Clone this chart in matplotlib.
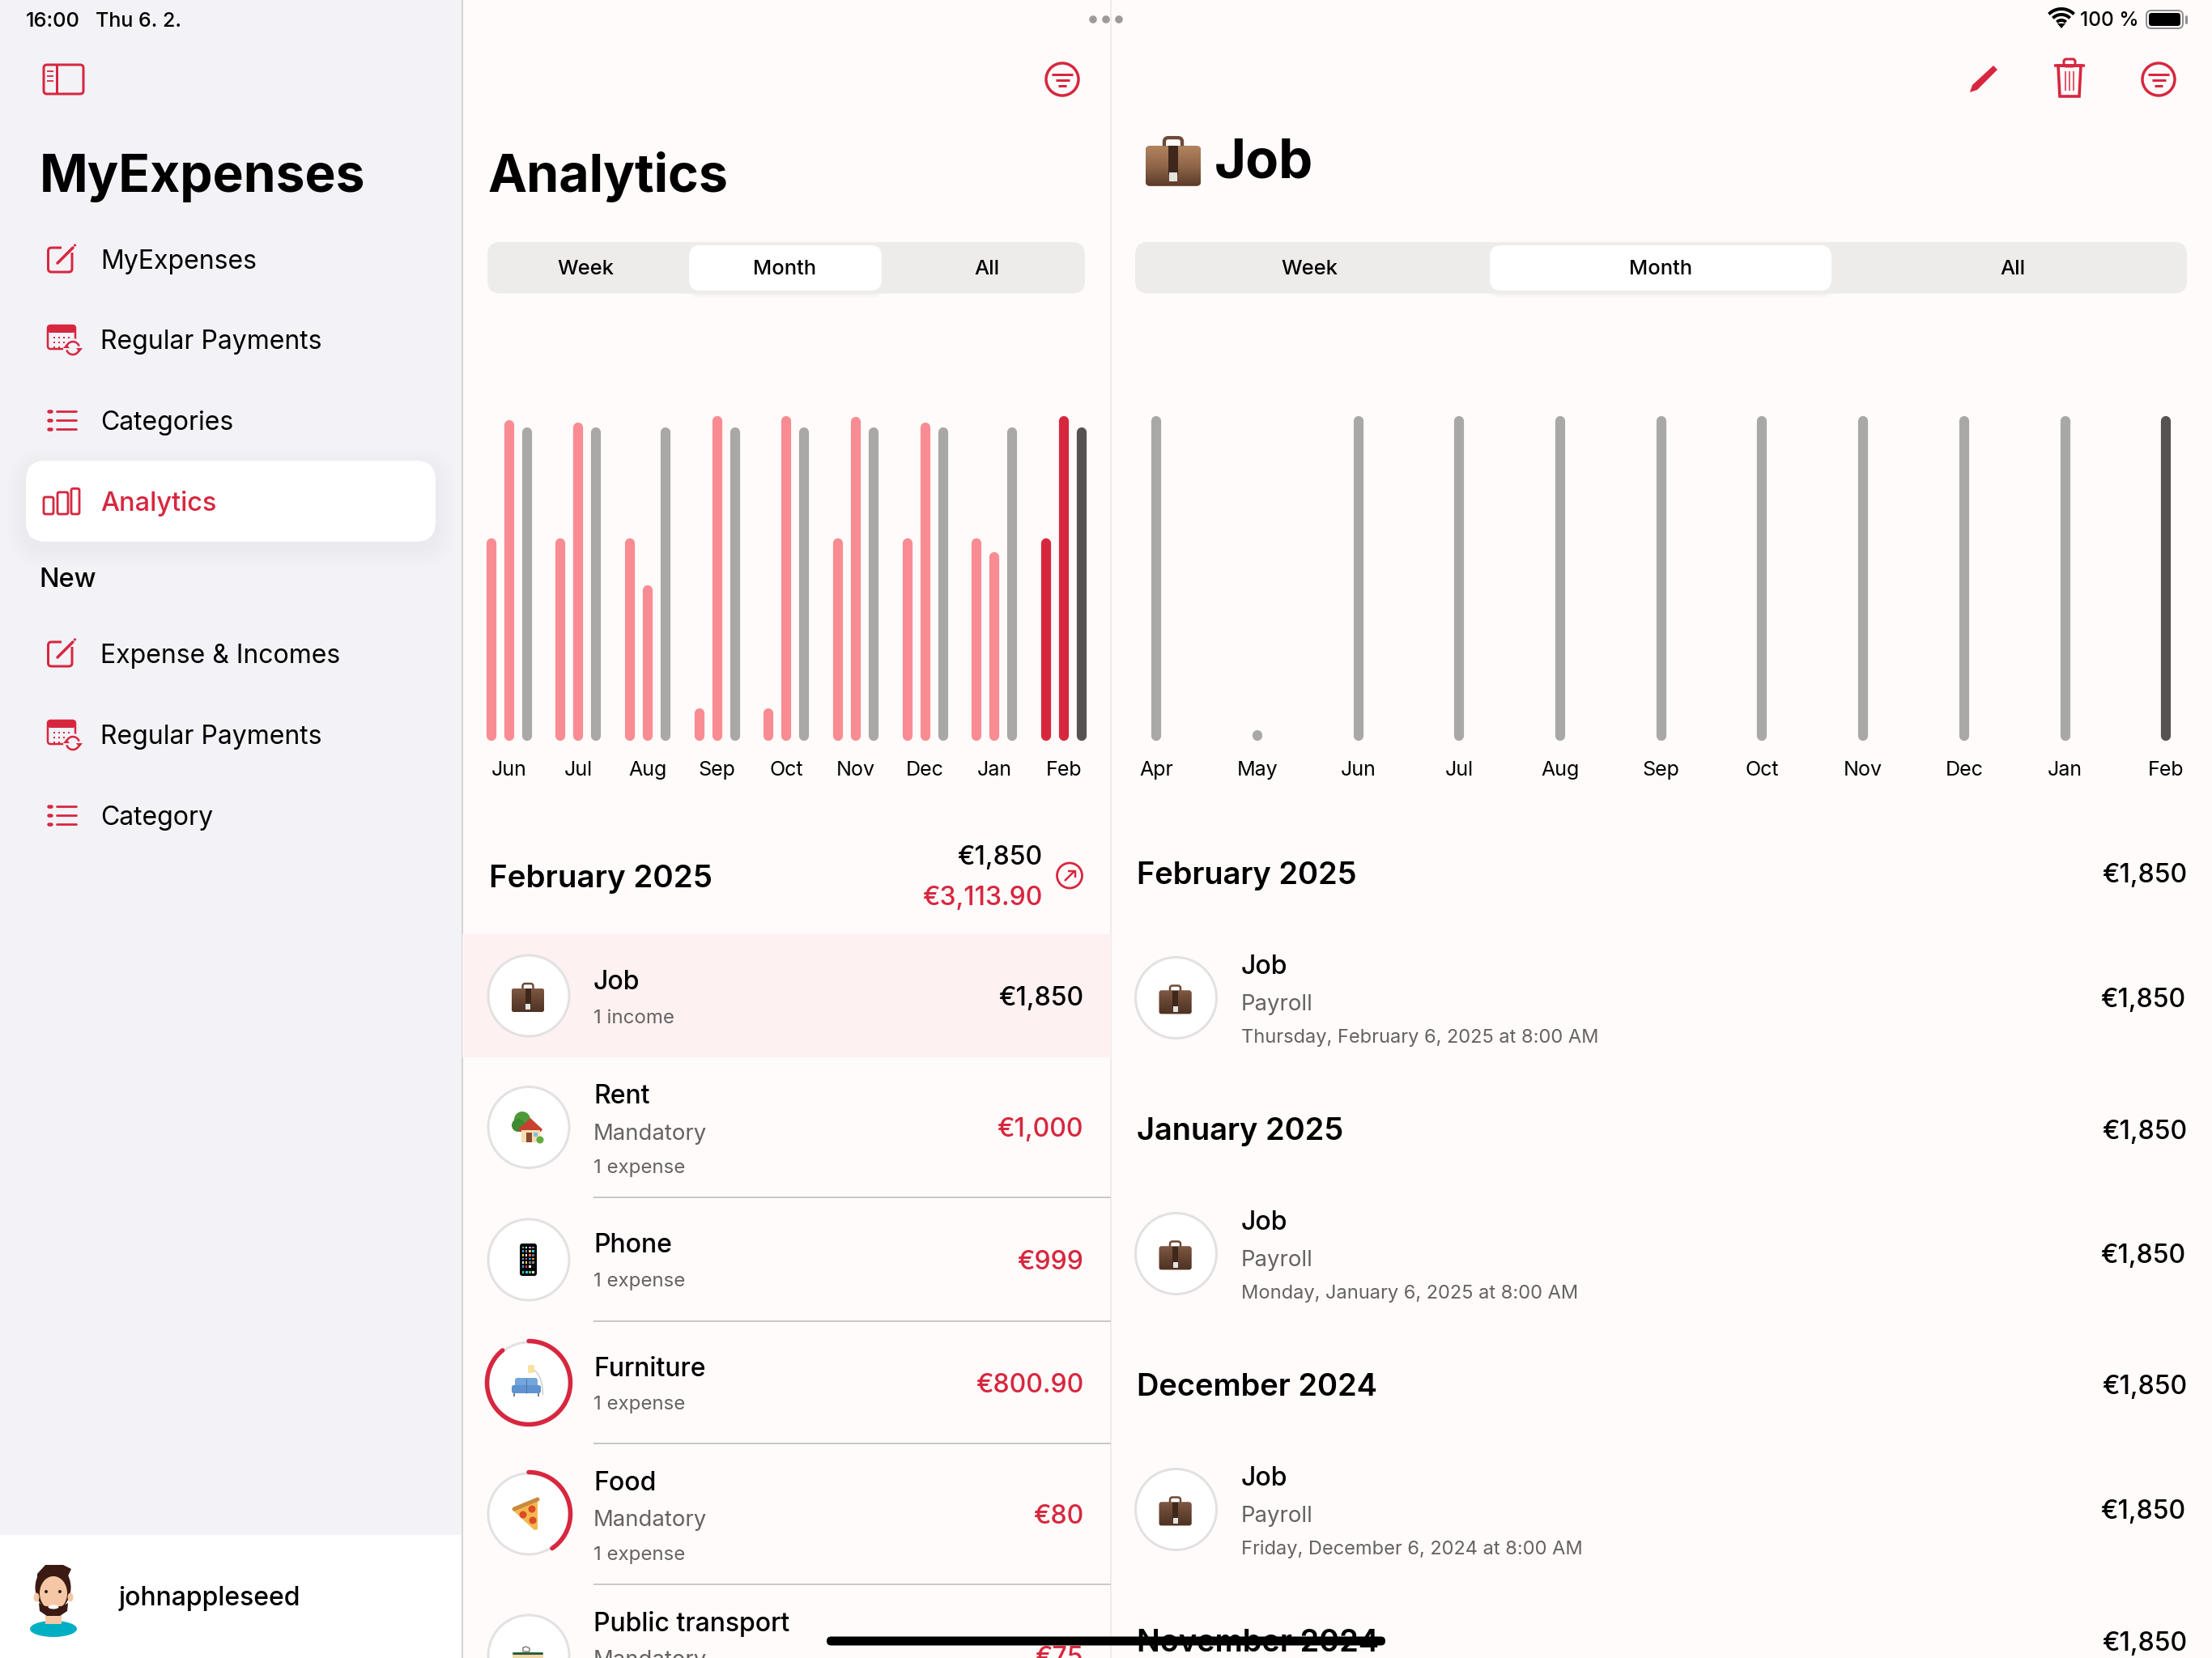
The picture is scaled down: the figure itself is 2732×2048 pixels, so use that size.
import numpy as np
import matplotlib
matplotlib.use('Agg')
import matplotlib.pyplot as plt
from matplotlib.patches import FancyBboxPatch, Circle, Rectangle, Polygon, Ellipse
from matplotlib.colors import LinearSegmentedColormap

plt.rcParams['font.family'] = ['Inter', 'Liberation Sans', 'DejaVu Sans']

W, H = 2732, 2048
RED = '#D7273F'
PINK = '#F98C92'
GREY = '#A9A8A6'
DARK = '#565252'
SUB = '#666262'
BG = '#FFFBFA'
SIDE = '#F2F2F7'
LINE = '#CAC8C8'
RING = '#E3E1E1'

# chart data, bar heights in % of the tallest bar
left_months = ['Jun', 'Jul', 'Aug', 'Sep', 'Oct', 'Nov', 'Dec', 'Jan', 'Feb']
left_first = [62.3, 62.3, 62.3, 10.0, 10.0, 62.3, 62.3, 62.3, 62.3]
left_second = [98.7, 97.9, 47.9, 100, 100, 99.7, 97.9, 58.1, 100]
left_third = [96.5, 96.5, 96.5, 96.5, 96.5, 96.5, 96.5, 96.5, 96.5]

right_months = ['Apr', 'May', 'Jun', 'Jul', 'Aug', 'Sep', 'Oct', 'Nov', 'Dec', 'Jan', 'Feb']
right_values = [100, 3.2, 100, 100, 100, 100, 100, 100, 100, 100, 100]

menu_top = ['MyExpenses', 'Regular Payments', 'Categories', 'Analytics']
menu_new = ['Expense & Incomes', 'Regular Payments', 'Category']

cat_names = ['Job', 'Rent', 'Phone', 'Furniture', 'Food', 'Public transport']
cat_kinds = [None, 'Mandatory', None, None, 'Mandatory', 'Mandatory']
cat_counts = ['1 income', '1 expense', '1 expense', '1 expense', '1 expense', None]
cat_amounts = ['€1,850', '€1,000', '€999', '€800.90', '€80', '€75']
cat_ring = [0, 0, 0, 0.892, 0.405, 0]

pay_months = ['February 2025', 'January 2025', 'December 2024', 'November 2024']
pay_dates = ['Thursday, February 6, 2025 at 8:00 AM', 'Monday, January 6, 2025 at 8:00 AM',
             'Friday, December 6, 2024 at 8:00 AM']

fig = plt.figure(figsize=(W / 100, H / 100), dpi=100, facecolor=BG)
ui = fig.add_axes([0, 0, 1, 1])
ui.set_xlim(0, W)
ui.set_ylim(H, 0)
ui.axis('off')
ui.set_autoscale_on(False)


def T(x, y, s, px, color='black', weight='normal', ha='left', va='center', z=5):
    # centred text sits a bit high in Inter, so push it down
    if va == 'center':
        y = y + 3.5
    return ui.text(x, y, s, fontsize=px * 0.72, color=color, fontweight=weight, ha=ha, va=va, zorder=z)


def rbox(x0, y0, x1, y1, r, fc='none', ec='none', lw=0, z=2, alpha=None):
    p = FancyBboxPatch((x0, y0), x1 - x0, y1 - y0, boxstyle=f'round,pad=0,rounding_size={r}',
                       fc=fc, ec=ec, lw=lw * 0.72, zorder=z, alpha=alpha)
    ui.add_patch(p)
    return p


def seg(pts, color=RED, lw=3, z=4, cap='round'):
    xs, ys = zip(*pts)
    ui.plot(xs, ys, color=color, lw=lw * 0.72, solid_capstyle=cap, zorder=z)


def shadow(x0, y0, x1, y1, r, spread=24, dy=8, a=0.004):
    for k in range(spread, 0, -3):
        rbox(x0 - k, y0 - k + dy, x1 + k, y1 + k + dy, r + k, fc='black', z=1.5, alpha=a)


def circle(cx, cy, r, fc='none', ec='none', lw=0, z=3):
    ui.add_patch(Circle((cx, cy), r, fc=fc, ec=ec, lw=lw * 0.72, zorder=z))


# panels
ui.add_patch(Rectangle((0, 0), 570, H, fc=SIDE, zorder=0))
ui.add_patch(Rectangle((0, 1896), 570, H - 1896, fc='white', zorder=0.5))
seg([(570.5, 0), (570.5, H)], color='#C8C8CA', lw=1.5, z=1, cap='butt')
seg([(1371.5, 0), (1371.5, H)], color='#EAE6E6', lw=1.5, z=1, cap='butt')


# small icons
def filter_icon(cx, cy):
    circle(cx, cy, 20, ec=RED, lw=3.5)
    for dy, hw in [(-6.5, 13), (0.5, 8.5), (8, 5)]:
        seg([(cx - hw, cy + dy), (cx + hw, cy + dy)], lw=3, cap='butt')


def edit_icon(y):
    rbox(59.5, y - 14, 89, y + 16, 4, ec=RED, lw=3)
    ui.add_patch(Rectangle((76, y - 20), 20, 12, fc=SIDE, zorder=3.5))
    seg([(71, y + 5), (90, y - 14)], lw=3.5)
    circle(92.5, y - 17, 1.6, fc=RED, z=5)


def calendar_icon(y):
    rbox(59, y - 17, 93, y + 12, 3.5, ec=RED, lw=2.5)
    rbox(59, y - 17, 93, y - 8, 3, fc=RED, z=3)
    for gx in range(66, 90, 6):
        for gy in (-3, 3, 9):
            if gx > 76 and gy > 3:
                continue
            ui.add_patch(Rectangle((gx, y + gy), 2, 2, fc=RED, zorder=3))
    circle(90, y + 11, 12, fc=SIDE, z=3.5)
    t = np.linspace(0.3, 2.7, 12)
    seg(list(zip(90 + 8 * np.cos(t), y + 11 - 8 * np.sin(t))), lw=2.5, cap='butt')
    seg(list(zip(90 + 8 * np.cos(t + np.pi), y + 11 - 8 * np.sin(t + np.pi))), lw=2.5, cap='butt')
    ui.add_patch(Polygon([(94, y + 11), (102, y + 11), (98, y + 16)], fc=RED, zorder=5))
    ui.add_patch(Polygon([(78, y + 11), (86, y + 11), (82, y + 6)], fc=RED, zorder=5))


def list_icon(y):
    for dy in (-11, 0, 11):
        seg([(60, y + dy), (63, y + dy)], lw=4.5)
        seg([(70, y + dy), (94, y + dy)], lw=2.8)


# sidebar
T(32, 23, '16:00', 25.5, weight='medium')
T(118, 23, 'Thu 6. 2.', 25, weight='medium')
rbox(54, 80, 103, 116, 4, ec=RED, lw=3)
seg([(69.5, 80), (69.5, 116)], lw=3, cap='butt')
for yy in (88, 94, 100):
    seg([(58, yy), (65.5, yy)], lw=1.8, cap='butt')
T(48.5, 236.5, 'MyExpenses', 64, weight='bold', va='baseline')

rbox(32, 569, 538, 669, 24, fc='white', z=2)
shadow(32, 569, 538, 669, 24)

menu_y = [320, 419.5, 519, 619]
for name, yy in zip(menu_top, menu_y):
    active = name == 'Analytics'
    T(124.5, yy, name, 32.5 if active else 32, color=RED if active else 'black',
      weight='medium' if active else 'normal')
edit_icon(320)
calendar_icon(419)
list_icon(519)
for x0, x1, yt in [(54, 66, 614), (71, 84, 608), (88, 98, 603.5)]:
    rbox(x0, yt, x1, 635, 2, ec=RED, lw=2.8, z=4)

T(48, 713, 'New', 32.5, weight='medium')
new_y = [807, 907, 1007]
for name, yy in zip(menu_new, new_y):
    T(124.5, yy, name, 32)
edit_icon(807)
calendar_icon(907)
list_icon(1007)

# avatar
ui.add_patch(Ellipse((66, 2012), 58, 20, fc='#00AFC4', zorder=3))
ui.add_patch(Rectangle((56, 1990), 20, 16, fc='#F6C7A4', zorder=3.2))
ui.add_patch(Ellipse((65.5, 1961), 44, 56, fc='#3B1A14', zorder=3.1))
ui.add_patch(Ellipse((45, 1973), 7, 11, fc='#F6C7A4', zorder=3.1))
ui.add_patch(Ellipse((87, 1973), 7, 11, fc='#F6C7A4', zorder=3.1))
ui.add_patch(Ellipse((66, 1968), 34, 42, fc='#F6C7A4', zorder=3.3))
ui.add_patch(Polygon([(48, 1980), (56, 1984), (76, 1984), (84, 1980), (83, 1990), (74, 1996), (58, 1996), (49, 1990)],
                     fc='#3B1A14', zorder=3.4))
ui.add_patch(Ellipse((66, 1985), 13, 5, fc='white', zorder=3.5))
ui.add_patch(Polygon([(46, 1956), (58, 1945), (84, 1947), (88, 1938), (78, 1933), (56, 1933), (46, 1944)], fc='#3B1A14', zorder=3.4))
circle(57, 1966, 2, fc='#222222', z=3.6)
circle(74, 1966, 2, fc='#222222', z=3.6)
T(146, 1971, 'johnappleseed', 32, weight='medium')

# top right bits
for xd in (1350, 1366, 1382):
    circle(xd, 24, 4.8, fc='#9E9A9A')
t = np.linspace(np.pi * 0.25, np.pi * 0.75, 14)
for rr in (22, 15, 8):
    seg(list(zip(2546 + rr * np.cos(t), 33 - rr * np.sin(t))), color='black', lw=4, cap='butt')
ui.add_patch(Polygon([(2541, 29), (2551, 29), (2546, 35)], fc='black', zorder=4))
T(2569, 22, '100 %', 24.5, weight='medium')
rbox(2651, 13, 2696, 35, 6, ec='#8F8F8F', lw=2)
rbox(2654, 16, 2693, 32, 3.5, fc='black', z=4)
seg([(2700, 20), (2700, 28)], color='#8F8F8F', lw=3)

# analytics header
filter_icon(1312, 98)
T(602.5, 236.5, 'Analytics', 64.5, weight='bold', va='baseline')


def segmented(x0, x1, sx0, sx1, centers):
    rbox(x0, 299, x1, 362.5, 16, fc='#EEEBEB', z=2)
    rbox(sx0, 303, sx1, 359, 14, fc='white', z=3)
    shadow(sx0, 303, sx1, 359, 14, spread=6, dy=3, a=0.02)
    for lab, xc in zip(['Week', 'Month', 'All'], centers):
        T(xc, 329, lab, 25.5, weight='medium', ha='center')


segmented(602, 1340, 851, 1089, [723, 969.5, 1218.5])
segmented(1402, 2701, 1840, 2262, [1617.5, 2051, 2486])


def briefcase(cx, cy, w, colors=('#7E5943', '#654432', '#4E3323')):
    s = w / 40.0
    rbox(cx - 6.5 * s, cy - 17 * s, cx + 6.5 * s, cy - 8 * s, 3 * s, ec='#6B4B38', lw=2.5 * s, z=4)
    body = rbox(cx - 20 * s, cy - 11 * s, cx + 20 * s, cy + 18 * s, 3 * s, fc='#6D4934', z=4.1)
    cmap = LinearSegmentedColormap.from_list('case', list(colors))
    im = ui.imshow(np.linspace(0, 1, 40)[:, None], cmap=cmap, aspect='auto', zorder=4.2,
                   extent=(cx - 20 * s, cx + 20 * s, cy + 18 * s, cy - 11 * s))
    im.set_clip_path(body)
    ui.add_patch(Rectangle((cx - 3.5 * s, cy - 11 * s), 7 * s, 21 * s, fc='#3F281B', zorder=4.3))
    ui.add_patch(Rectangle((cx - 3 * s, cy + 8 * s), 6 * s, 7 * s, fc='#E4E4E2', zorder=4.4))
    ui.set_xlim(0, W)
    ui.set_ylim(H, 0)


# detail header
briefcase(1449, 199, 68, colors=('#B2845F', '#8F6649', '#5C3B29'))
T(1499.5, 220, 'Job', 67, weight='bold', va='baseline')
ui.add_patch(Polygon([(2433, 114), (2436, 105), (2462, 81), (2467, 86), (2442, 111)], fc=RED, zorder=4))
seg([(2537, 81), (2575, 81)], lw=3.5, cap='butt')
rbox(2549, 73, 2563, 82, 3, ec=RED, lw=3)
ui.add_patch(Polygon([(2542, 81), (2570, 81), (2568, 119), (2544, 119)], fc='none', ec=RED, lw=2.6, zorder=4))
for xv in (2551, 2556, 2561):
    seg([(xv, 88), (xv, 112)], lw=1.5, cap='butt')
filter_icon(2666, 98)

# charts
PX = 4.013  # pixels per %
BAR_PX = 12.2
CAP = BAR_PX / 2 / PX
GROUP_PX = 85.65
GAP = 21.9 / GROUP_PX
TOP = 505


def chart_axes(x0, x1, x_first, step):
    ax = fig.add_axes([x0 / W, 1 - 915 / H, (x1 - x0) / W, (915 - TOP) / H])
    ax.patch.set_alpha(0)
    ax.set_xlim((x0 - x_first) / step, (x1 - x_first) / step)
    ax.set_ylim(0, (915 - TOP) / PX)
    for sp in ax.spines.values():
        sp.set_visible(False)
    ax.set_yticks([])
    ax.tick_params(axis='x', length=0, pad=18, labelsize=25 * 0.72, labelcolor='black')
    return ax


ax1 = chart_axes(571, 1371, 628.7, GROUP_PX)
groups = np.arange(len(left_months))
ax1.set_xticks(groups, left_months)
for offset, vals, base, last in [(-GAP, left_first, PINK, RED), (0, left_second, PINK, RED),
                                 (GAP, left_third, GREY, DARK)]:
    cols = [base] * (len(vals) - 1) + [last]
    ax1.vlines(groups + offset, CAP, np.array(vals) - CAP, colors=cols, lw=BAR_PX * 0.72, capstyle='round')

ax2 = chart_axes(1372, W, 1428.2, 124.7)
pos = np.arange(len(right_months))
ax2.set_xticks(pos, right_months)
ax2.vlines(pos, CAP, np.array(right_values) - CAP, colors=[GREY] * 10 + [DARK], lw=BAR_PX * 0.72, capstyle='round')

# left list
T(604, 1082.5, 'February 2025', 38.5, weight='semibold')
T(1287, 1056.5, '€1,850', 32, weight='medium', ha='right')
T(1287, 1106, '€3,113.90', 32, color=RED, weight='medium', ha='right')
circle(1321, 1081.5, 15.5, ec=RED, lw=2.8)
seg([(1315, 1088), (1327, 1076)], lw=2.5, cap='butt')
seg([(1319, 1075.5), (1327.5, 1075.5), (1327.5, 1084)], lw=2.5, cap='butt')

ui.add_patch(Rectangle((571, 1154), 801, 152, fc='#FDF1F1', zorder=1))
for yy in (1479, 1631.5, 1783, 1957):
    seg([(733, yy), (1372, yy)], color=LINE, lw=2, z=1.5, cap='butt')

center_y = [1230, 1392.5, 1556, 1708, 1870, 2045]
name_y = [1210, 1351, 1535, 1687.5, 1829, 2002]
kind_y = [None, 1397, None, None, 1874.5, 2047]
count_y = [1254, 1439, 1579, 1732, 1917, None]
for i, name in enumerate(cat_names):
    cy = center_y[i]
    circle(653, cy, 50, fc='white', ec=RING, lw=3)
    if cat_ring[i] > 0:
        t = np.linspace(-np.pi / 2, -np.pi / 2 + 2 * np.pi * cat_ring[i], 100)
        seg(list(zip(653 + 51.5 * np.cos(t), cy + 51.5 * np.sin(t))), lw=5.5, z=3.5)
    T(733, name_y[i], name, 32, weight='medium')
    if cat_kinds[i]:
        T(733, kind_y[i], cat_kinds[i], 27.5, color=SUB)
    if cat_counts[i]:
        T(733, count_y[i], cat_counts[i], 24, color=SUB)
    T(1338, cy, cat_amounts[i], 32, color='black' if i == 0 else RED, weight='medium', ha='right')

# emoji icons, no colour emoji font here
briefcase(652, 1232, 40)
circle(645, 1383, 10, fc='#4E9A3A', z=4)
circle(640, 1390, 8, fc='#3F8A32', z=4)
ui.add_patch(Polygon([(640, 1395), (655, 1381), (670, 1395), (668, 1398), (642, 1398)], fc='#C8402F', zorder=4.1))
ui.add_patch(Rectangle((644, 1396), 23, 15, fc='#F5DFB0', zorder=4.2))
ui.add_patch(Rectangle((650, 1399), 7, 12, fc='#8E4A2E', zorder=4.3))
ui.add_patch(Rectangle((659, 1399), 5, 5, fc='#7FBFE0', zorder=4.3))
circle(667, 1408, 4.5, fc='#5FAE3F', z=4.4)

rbox(642, 1536, 663, 1576, 3.5, fc='black', z=4)
phone_colors = ['#3DD65C', '#F5F5F5', '#D890E0', '#8A8A8A', '#1FB5F0', '#8A8A8A', '#E8C48A', '#35D0F0',
                '#F5CE2E', '#F5F5F5', '#E86A50', '#777777', '#25C8D8', '#E040C0', '#1FA0F0', '#F59A10',
                '#F0F0F0', '#F5E040', '#777777', '#8A8A8A', '#1FA8E8', '#E84040', '#F5F5F5', '#111111']
for k, col in enumerate(phone_colors):
    ui.add_patch(Rectangle((644.5 + (k % 4) * 4.3, 1539.5 + (k // 4) * 4.7), 2.6, 2.6, fc=col, zorder=4.2))
for k, col in enumerate(['#35D8C0', '#30C8F0', '#3DD65C', '#EDEDED']):
    ui.add_patch(Rectangle((644.5 + k * 4.3, 1570), 2.8, 3, fc=col, zorder=4.2))

t = np.linspace(0.05, 1.5, 16)
seg(list(zip(657 + 13.5 * np.cos(t) * 1.0, 1724 - 32 * np.sin(t))), color='#D2D2D2', lw=1.6)
rbox(652, 1686, 660, 1696, 2, fc='#F8E2A0', z=4.3)
rbox(636, 1702, 664, 1720, 3, fc='#72A6DC', z=4.2)
rbox(632, 1711, 668, 1721, 2.5, fc='#5E93CF', z=4.3)
for xl in (635, 665):
    seg([(xl, 1721), (xl, 1725)], color='#555555', lw=1.5, z=4.2, cap='butt')
seg([(650, 1703), (650, 1721)], color='#4B78AC', lw=1, z=4.4, cap='butt')

ui.add_patch(Polygon([(634, 1866), (664, 1852), (664, 1889), (660, 1890)], fc='#F3B84C', zorder=4))
seg([(635, 1864), (664, 1852)], color='#C88A3E', lw=5, z=4.1)
for xp, yp, rp in [(657, 1864, 4.5), (646, 1871, 4.5), (658, 1878, 4.5)]:
    circle(xp, yp, rp, fc='#DD4A28', z=4.2)

ui.add_patch(Rectangle((633, 2044), 38, 10, fc='#F2D9A8', zorder=4))
rbox(633, 2041, 671, 2044, 1.5, fc='#2F5D3A', z=4.1)
ui.add_patch(Polygon([(646, 2040), (646, 2035), (650, 2034), (654, 2036), (654, 2040)], fc='none', ec='#777777', lw=1, zorder=4.1))

# right list
sec_y = [1078.5, 1395, 1710.5, 2027]
for mon, yy in zip(pay_months, sec_y):
    T(1404, yy, mon, 38, weight='semibold')
    T(2701, yy, '€1,850', 32, weight='medium', ha='right')
for mon_date, yy in zip(pay_dates, [1232.5, 1548.5, 1864.5]):
    circle(1452.5, yy, 50, fc='white', ec=RING, lw=3)
    briefcase(1451.5, yy + 2, 40)
    T(1533, yy - 41.5, 'Job', 32, weight='medium')
    T(1533, yy + 5, 'Payroll', 27.5, color=SUB)
    T(1533, yy + 46, mon_date, 23.6, color=SUB)
    T(2699, yy, '€1,850', 32, weight='medium', ha='right')

# home indicator
rbox(1021, 2021.5, 1711, 2032.5, 5.5, fc='black', z=9)

fig.savefig('out.png', dpi=100, facecolor=BG)
